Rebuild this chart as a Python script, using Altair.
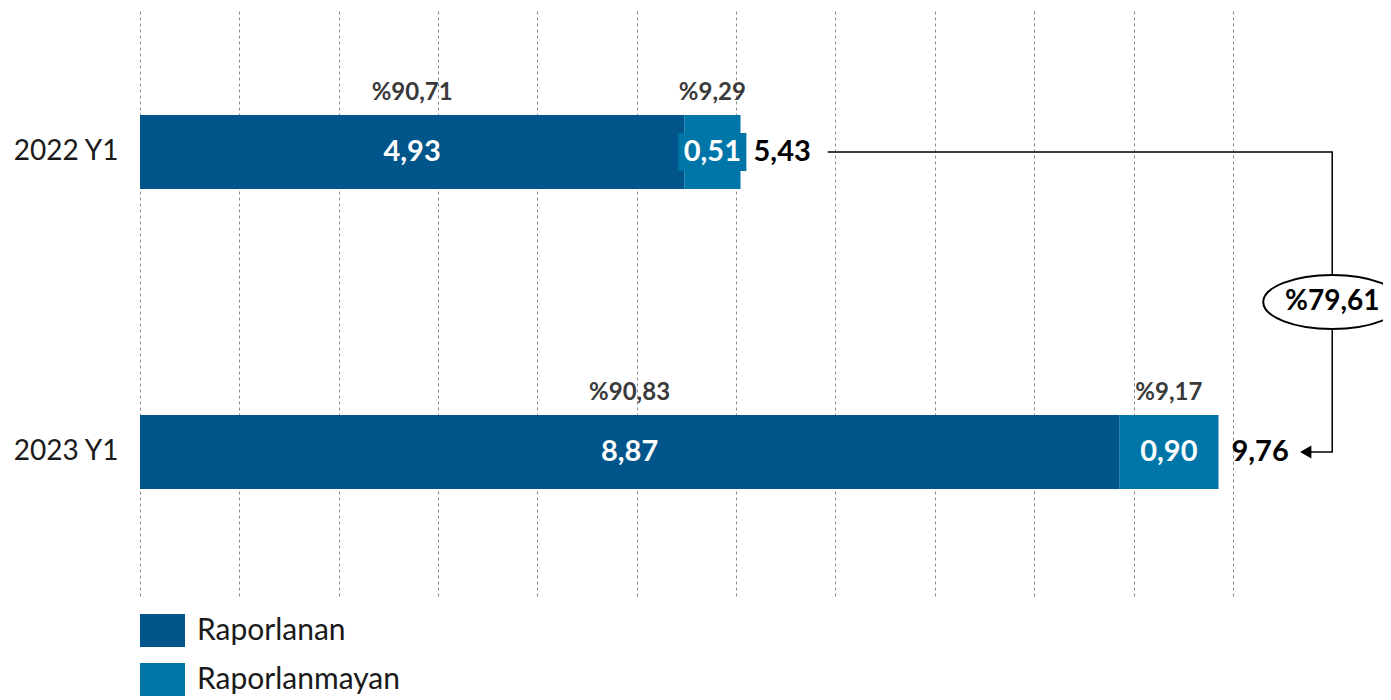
import altair as alt
import pandas as pd

# ---- data ----
periods = ["2022 Y1", "2023 Y1"]
series = ["Raporlanan", "Raporlanmayan"]
raporlanan = [4.93, 8.87]
raporlanmayan = [0.51, 0.90]
totals = [5.43, 9.76]
pct_raporlanan = ["%90,71", "%90,83"]
pct_raporlanmayan = ["%9,29", "%9,17"]
growth_label = "%79,61"
grid_ticks = [0, 0.9, 1.8, 2.7, 3.6, 4.5, 5.4, 6.3, 7.2, 8.1, 9.0, 9.9]

DARK = "#00558A"
LIGHT = "#0076A8"
FONT = "Lato"


def fmt(v):
    return f"{v:.2f}".replace(".", ",")


rows = []
for i, p in enumerate(periods):
    a, b = raporlanan[i], raporlanmayan[i]
    rows.append(dict(period=p, series=series[0], value=a, start=0.0, end=a,
                     mid=a / 2, label=fmt(a), pct=pct_raporlanan[i]))
    rows.append(dict(period=p, series=series[1], value=b, start=a, end=a + b,
                     mid=a + b / 2, label=fmt(b), pct=pct_raporlanmayan[i]))
seg = pd.DataFrame(rows)

tot = pd.DataFrame(dict(period=periods, end=[raporlanan[i] + raporlanmayan[i] for i in range(2)],
                        label=[fmt(t) for t in totals]))

# connector (bracket) from 2022 total to 2023 total
GAP = 0.8
CORNER = 10.8
conn = pd.DataFrame(dict(
    x=[totals[0] + GAP, CORNER, CORNER, totals[1] + GAP],
    period=[periods[0], periods[0], periods[1], periods[1]],
    o=[0, 1, 2, 3],
))
arrow = pd.DataFrame(dict(x=[totals[1] + GAP], period=[periods[1]]))
growth = pd.DataFrame(dict(x=[CORNER], period=[periods[0]], label=[growth_label]))

xscale = alt.Scale(domain=[0, 11.26], nice=False, zero=True)
xaxis = alt.Axis(grid=True, values=grid_ticks, gridDash=[3, 3], gridColor="#8c8c8c",
                 gridWidth=1, labels=False, ticks=False, domain=False, title=None)
yscale = alt.Scale(domain=periods, paddingInner=0.7533, paddingOuter=0.3567)
yaxis = alt.Axis(title=None, ticks=False, domain=False, labelFont=FONT, labelFontSize=28,
                 labelColor="#1a1a1a", labelPadding=22, grid=False)


def X(field):
    return alt.X(f"{field}:Q", scale=xscale, axis=xaxis)


def Y():
    return alt.Y("period:N", scale=yscale, axis=yaxis, sort=periods)


rect_path = "M-1,-0.733H1V0.733H-1Z"
box_path = "M-1,-0.559H1V0.559H-1Z"
ellipse_path = ("M-1,0C-1,-0.216,-0.552,-0.391,0,-0.391C0.552,-0.391,1,-0.216,1,0"
                "C1,0.216,0.552,0.391,0,0.391C-0.552,0.391,-1,0.216,-1,0Z")

bars = alt.Chart(seg).mark_bar().encode(
    y=Y(),
    x=X("start"),
    x2="end:Q",
    color=alt.Color(
        "series:N",
        scale=alt.Scale(domain=series, range=[DARK, LIGHT]),
        legend=alt.Legend(orient="none", legendX=0, legendY=600, direction="vertical",
                          title=None, symbolType=rect_path, symbolSize=2025,
                          symbolStrokeWidth=0, symbolOpacity=1, labelFont=FONT,
                          labelFontSize=30, labelColor="#1a1a1a", labelOffset=12,
                          rowPadding=10, padding=0, labelLimit=400),
    ),
)

label_box = alt.Chart(seg).transform_filter("datum.value < 0.7").mark_point(
    shape=box_path, size=68 * 68, filled=True, color=LIGHT, opacity=1, strokeWidth=0
).encode(y=Y(), x=X("mid"))

values_txt = alt.Chart(seg).mark_text(
    font=FONT, fontSize=29, fontWeight="bold", color="white", baseline="middle"
).encode(y=Y(), x=X("mid"), text="label:N")

pct_txt = alt.Chart(seg).mark_text(
    font=FONT, fontSize=24, fontWeight="bold", color="#3a3a3a", baseline="middle", yOffset=-59
).encode(y=Y(), x=X("mid"), text="pct:N")

tot_txt = alt.Chart(tot).mark_text(
    font=FONT, fontSize=29, fontWeight="bold", color="black", align="left",
    baseline="middle", dx=13
).encode(y=Y(), x=X("end"), text="label:N")

conn_line = alt.Chart(conn).mark_line(color="black", strokeWidth=1.5).encode(
    y=Y(), x=X("x"), order="o:Q"
)

arrow_pt = alt.Chart(arrow).mark_point(
    shape="triangle-left", size=170, filled=True, color="black", opacity=1
).encode(y=Y(), x=X("x"))

ellipse = alt.Chart(growth).mark_point(
    shape=ellipse_path, size=138 * 138, fill="white", stroke="black", strokeWidth=2,
    opacity=1, fillOpacity=1, yOffset=150
).encode(y=Y(), x=X("x"))

growth_txt = alt.Chart(growth).mark_text(
    font=FONT, fontSize=28, fontWeight="bold", color="black", baseline="middle", yOffset=150
).encode(y=Y(), x=X("x"), text="label:N")

chart = alt.layer(
    bars, label_box, values_txt, pct_txt, tot_txt, conn_line, arrow_pt, ellipse, growth_txt
).properties(
    width=1243, height=588,
    autosize=alt.AutoSizeParams(type="none"),
    padding={"left": 132, "top": 0, "right": 0, "bottom": 104},
    background="white",
).configure_view(stroke=None)

chart.save("out.html", embed_options={"renderer": "svg", "actions": False})
